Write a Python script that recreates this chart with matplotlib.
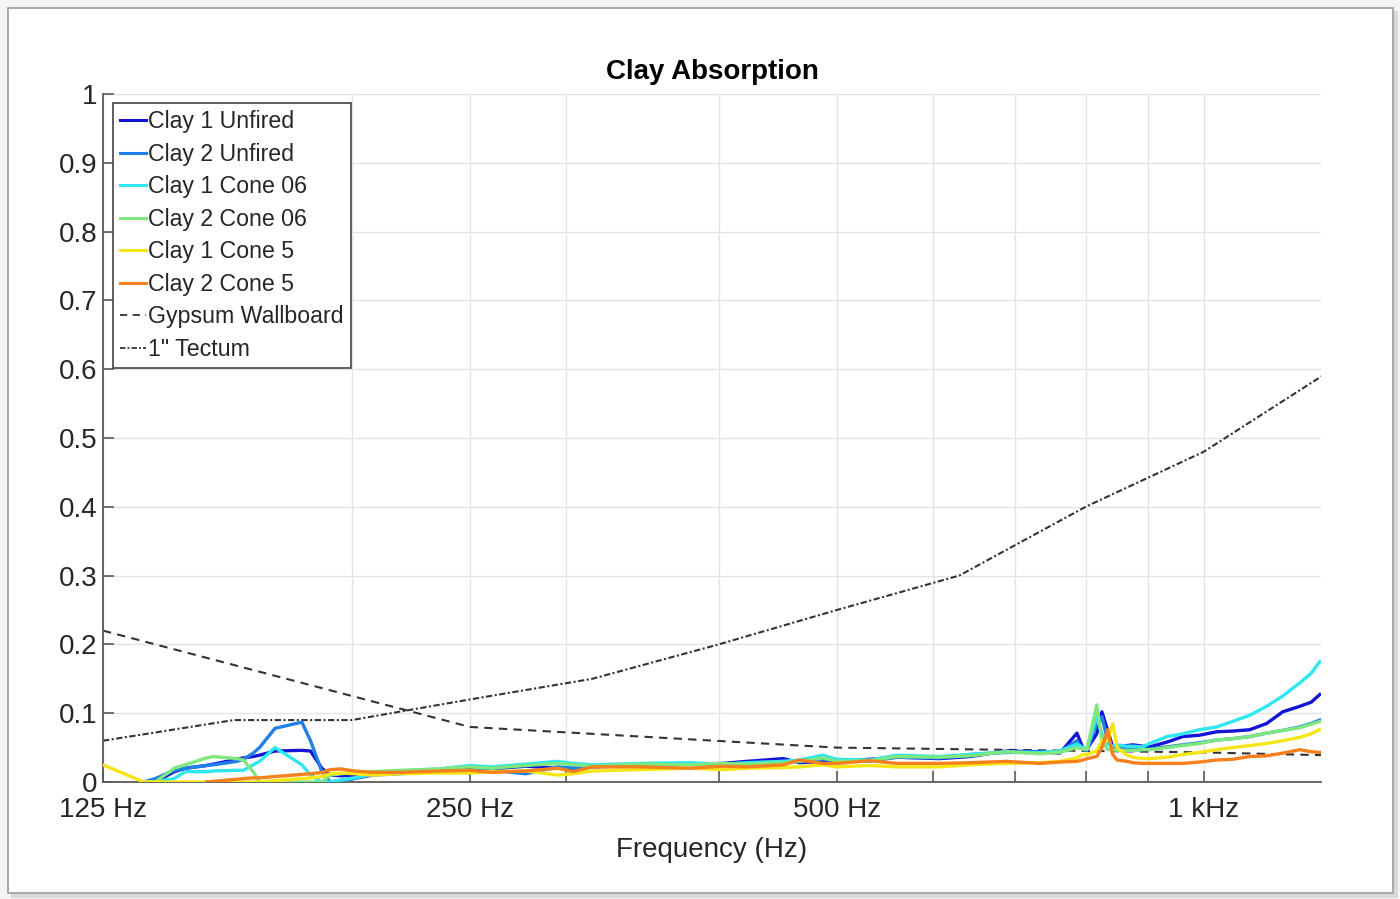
import matplotlib
matplotlib.use('Agg')
import matplotlib.pyplot as plt
import numpy as np
from matplotlib.patches import Rectangle
from matplotlib.ticker import FixedLocator, NullFormatter

plt.rcParams['font.family'] = ['Liberation Sans', 'DejaVu Sans']

nan = np.nan

# Shared frequency grid (Hz) for the measured clay curves
freq = [125, 135, 138, 143, 146, 152, 154, 161, 163, 166, 168, 173, 182, 185, 189, 192,
        196, 201, 208, 219, 236, 250, 260, 278, 295, 304, 315, 345, 379, 403, 422, 452,
        466, 487, 500, 532, 560, 607, 643, 689, 734, 762, 787, 796, 802, 817, 825, 834,
        842, 849, 865, 875, 891, 903, 933, 961, 992, 1025, 1056, 1091, 1126, 1161, 1199,
        1225, 1245]

clay1_unfired = [nan, 0.0, 0.0, 0.015, 0.02, 0.024, 0.026, 0.033, 0.035, 0.037, 0.039, 0.045,
                 0.046, 0.045, 0.02, 0.01, 0.009, 0.01, 0.012, 0.014, 0.017, 0.02, 0.019, 0.023,
                 0.02, 0.02, 0.022, 0.024, 0.026, 0.027, 0.03, 0.034, 0.028, 0.03, 0.03, 0.033,
                 0.036, 0.034, 0.037, 0.045, 0.044, 0.042, 0.071, 0.049, 0.048, 0.07, 0.102,
                 0.075, 0.051, 0.052, 0.053, 0.054, 0.052, 0.051, 0.058, 0.066, 0.068, 0.073,
                 0.074, 0.076, 0.085, 0.102, 0.11, 0.116, 0.127]

clay2_unfired = [nan, 0.0, 0.005, 0.017, 0.02, 0.024, 0.025, 0.03, 0.033, 0.042, 0.05, 0.078,
                 0.087, 0.06, 0.015, 0.0, 0.002, 0.005, 0.01, 0.012, 0.015, 0.02, 0.017, 0.012,
                 0.022, 0.02, 0.023, 0.025, 0.027, 0.025, 0.027, 0.03, 0.03, 0.033, 0.031, 0.03,
                 0.036, 0.035, 0.04, 0.043, 0.043, 0.044, 0.06, 0.047, 0.046, 0.085, 0.095, 0.06,
                 0.05, 0.05, 0.048, 0.047, 0.047, 0.048, 0.051, 0.054, 0.057, 0.061, 0.063,
                 0.066, 0.071, 0.075, 0.08, 0.085, 0.09]

clay1_cone06 = [nan, 0.0, 0.0, 0.005, 0.015, 0.015, 0.016, 0.017, 0.017, 0.025, 0.03, 0.05,
                0.025, 0.01, 0.0, 0.0, 0.003, 0.006, 0.012, 0.016, 0.019, 0.024, 0.022, 0.026,
                0.03, 0.027, 0.025, 0.027, 0.028, 0.026, 0.028, 0.03, 0.032, 0.039, 0.033, 0.032,
                0.039, 0.037, 0.04, 0.044, 0.043, 0.045, 0.055, 0.05, 0.048, 0.095, 0.07, 0.055,
                0.052, 0.054, 0.052, 0.052, 0.051, 0.056, 0.066, 0.07, 0.076, 0.08, 0.088, 0.097,
                0.11, 0.125, 0.144, 0.158, 0.175]

clay2_cone06 = [nan, 0.0, 0.0, 0.02, 0.025, 0.035, 0.037, 0.034, 0.032, 0.015, 0.0, 0.0, 0.0,
                0.0, 0.0, 0.01, 0.012, 0.014, 0.015, 0.017, 0.019, 0.022, 0.02, 0.024, 0.027,
                0.025, 0.023, 0.026, 0.025, 0.027, 0.026, 0.028, 0.03, 0.035, 0.03, 0.031, 0.037,
                0.036, 0.038, 0.044, 0.041, 0.043, 0.05, 0.048, 0.047, 0.112, 0.06, 0.047, 0.047,
                0.046, 0.046, 0.046, 0.047, 0.047, 0.05, 0.053, 0.056, 0.061, 0.063, 0.066,
                0.071, 0.075, 0.079, 0.084, 0.088]

clay1_cone5 = [0.025, 0.0, 0.0, 0.0, 0.0, 0.0, 0.0, 0.0, 0.0, 0.0, 0.0, 0.002, 0.005, 0.006,
               0.008, 0.012, 0.013, 0.012, 0.01, 0.012, 0.013, 0.013, 0.015, 0.016, 0.01, 0.012,
               0.016, 0.018, 0.02, 0.018, 0.02, 0.021, 0.022, 0.025, 0.022, 0.024, 0.022, 0.022,
               0.025, 0.027, 0.028, 0.03, 0.035, 0.04, 0.04, 0.045, 0.06, 0.06, 0.085, 0.05,
               0.039, 0.036, 0.034, 0.034, 0.036, 0.04, 0.043, 0.047, 0.05, 0.053, 0.056, 0.06,
               0.065, 0.07, 0.076]

clay2_cone5 = [nan, nan, nan, nan, nan, 0.0, 0.001, 0.004, 0.005, 0.006, 0.006, 0.008, 0.011,
               0.012, 0.014, 0.018, 0.019, 0.016, 0.014, 0.014, 0.016, 0.017, 0.014, 0.016,
               0.02, 0.015, 0.022, 0.022, 0.02, 0.023, 0.022, 0.025, 0.032, 0.027, 0.027, 0.031,
               0.027, 0.027, 0.028, 0.03, 0.027, 0.029, 0.03, 0.032, 0.034, 0.037, 0.05, 0.076,
               0.04, 0.032, 0.03, 0.028, 0.027, 0.027, 0.027, 0.027, 0.029, 0.032, 0.033, 0.037,
               0.038, 0.042, 0.047, 0.044, 0.043]

gypsum_freq = [125, 250, 500, 1000, 1250]
gypsum_vals = [0.22, 0.08, 0.05, 0.043, 0.039]

tectum_freq = [125, 160, 200, 250, 315, 400, 500, 630, 800, 1000, 1250]
tectum_vals = [0.06, 0.09, 0.09, 0.12, 0.15, 0.20, 0.25, 0.30, 0.40, 0.48, 0.59]

series_labels = ['Clay 1 Unfired', 'Clay 2 Unfired', 'Clay 1 Cone 06',
                 'Clay 2 Cone 06', 'Clay 1 Cone 5', 'Clay 2 Cone 5']
series_colors = ['#1414d8', '#1e80e8', '#30e6f0', '#7ee87e', '#f6e616', '#f5801c']

x_major = [125, 250, 500, 1000]
x_major_labels = ['125 Hz', '250 Hz', '500 Hz', '1 kHz']
x_minor = [200, 300, 400, 600, 700, 800, 900]
y_ticks = [0, 0.1, 0.2, 0.3, 0.4, 0.5, 0.6, 0.7, 0.8, 0.9, 1]
y_labels = ['0', '0.1', '0.2', '0.3', '0.4', '0.5', '0.6', '0.7', '0.8', '0.9', '1']

W, H = 1400, 899
fig = plt.figure(figsize=(W / 100, H / 100), dpi=100)
fig.patch.set_facecolor('#f4f4f4')

# screenshot-like frame with a soft shadow
fig.patches.append(Rectangle((11 / W, 1 - 898 / H), (1398 - 11) / W, (898 - 11) / H,
                             transform=fig.transFigure, facecolor='#d9d9d9',
                             edgecolor='none', zorder=-3))
fig.patches.append(Rectangle((8 / W, 1 - 893 / H), (1393 - 8) / W, (893 - 8) / H,
                             transform=fig.transFigure, facecolor='white',
                             edgecolor='#a8a8a8', lw=1.4, zorder=-2))

ax = fig.add_axes([103 / W, 1 - 782 / H, (1321 - 103) / W, (782 - 94) / H])
ax.set_facecolor('white')

all_series = [clay1_unfired, clay2_unfired, clay1_cone06, clay2_cone06, clay1_cone5, clay2_cone5]
for vals, lab, col in zip(all_series, series_labels, series_colors):
    ax.plot(freq, vals, color=col, lw=2.4, label=lab, solid_joinstyle='round', zorder=3)

ax.plot(gypsum_freq, gypsum_vals, color='#333333', lw=1.5, ls=(0, (4, 3)),
        label='Gypsum Wallboard', zorder=2)
ax.plot(tectum_freq, tectum_vals, color='#333333', lw=1.5, ls=(0, (3, 1.2, 1, 1.2)),
        label='1" Tectum', zorder=2)

ax.set_xscale('log')
ax.set_xlim(125, 1248)
ax.set_ylim(0, 1)
ax.xaxis.set_major_locator(FixedLocator(x_major))
ax.set_xticklabels(x_major_labels)
ax.xaxis.set_minor_locator(FixedLocator(x_minor))
ax.xaxis.set_minor_formatter(NullFormatter())
ax.set_yticks(y_ticks)
ax.set_yticklabels(y_labels)
ax.yaxis.set_minor_locator(FixedLocator([]))

ax.grid(which='both', color='#e4e4e4', lw=1.0, zorder=0)
ax.set_axisbelow(True)
for s in ['top', 'right']:
    ax.spines[s].set_visible(False)
for s in ['left', 'bottom']:
    ax.spines[s].set_color('#5a5a5a')
    ax.spines[s].set_linewidth(1.3)

ax.tick_params(which='both', direction='in', length=8, width=1.2, color='#5a5a5a',
               labelsize=20, labelcolor='#262626')
ax.tick_params(axis='x', which='major', pad=11)
ax.tick_params(axis='y', pad=4)

ax.set_xlabel('Frequency (Hz)', fontsize=20, color='#262626', labelpad=10)
ax.set_title('Clay Absorption', fontsize=20, fontweight='bold', pad=11)

leg = ax.legend(loc='upper left', bbox_to_anchor=(113 / W, 1 - 103 / H),
                bbox_transform=fig.transFigure, borderaxespad=0, fontsize=16.7,
                handlelength=1.1, handletextpad=0.1, labelspacing=0.41,
                borderpad=0.32, fancybox=False, framealpha=1, edgecolor='#444444')
leg.get_frame().set_linewidth(1.2)
for t in leg.get_texts():
    t.set_color('#262626')
for h in leg.get_lines():
    h.set_linewidth(2.2)
leg.get_lines()[-2].set_linewidth(1.3)
leg.get_lines()[-1].set_linewidth(1.3)

fig.savefig('out.png', dpi=100, facecolor=fig.get_facecolor())
